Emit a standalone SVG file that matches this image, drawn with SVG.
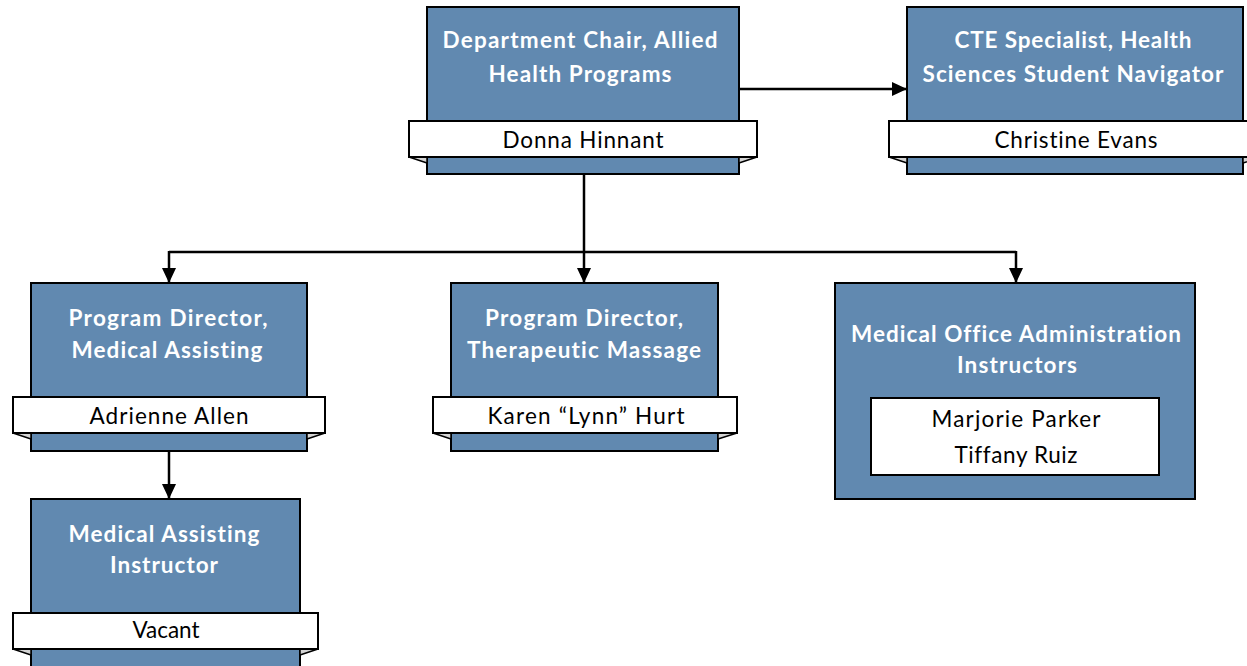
<svg xmlns="http://www.w3.org/2000/svg" width="1247" height="666" viewBox="0 0 1247 666">
<style>
.box{fill:#6189b0;stroke:#000;stroke-width:2}
.rib{fill:#fff;stroke:#000;stroke-width:2}
.fold{fill:#d4d4d4;stroke:#000;stroke-width:1.5;stroke-linejoin:round}
.t{font-family:Lato,"Liberation Sans",sans-serif;font-weight:bold;font-size:22.5px;fill:#fff;text-anchor:middle;font-variant-ligatures:none}
.n{font-family:Lato,"Liberation Sans",sans-serif;font-size:22.5px;fill:#000;text-anchor:middle;font-variant-ligatures:none}
.c{fill:none;stroke:#000;stroke-width:2.5}
</style>
<defs>
<marker id="ah" markerUnits="userSpaceOnUse" markerWidth="16" markerHeight="14" refX="15" refY="7" orient="auto">
<path d="M0,0 L15,7 L0,14 z" fill="#000"/>
</marker>
</defs>
<g id="connectors">
<line class="c" x1="739" y1="89" x2="907" y2="89" marker-end="url(#ah)"/>
<polyline class="c" points="584,174 584,252"/>
<line class="c" x1="169" y1="252" x2="1016" y2="252"/>
<line class="c" x1="169" y1="251" x2="169" y2="283" marker-end="url(#ah)"/>
<line class="c" x1="584" y1="251" x2="584" y2="283" marker-end="url(#ah)"/>
<line class="c" x1="1016" y1="251" x2="1016" y2="283" marker-end="url(#ah)"/>
<line class="c" x1="169" y1="451" x2="169" y2="499" marker-end="url(#ah)"/>
</g>
<g id="dept-chair">
<rect class="box" x="427" y="7" width="312" height="167"/>
<polygon class="fold" points="409,157 427,157 427,163"/>
<polygon class="fold" points="757,157 739,157 739,163"/>
<rect class="rib" x="409" y="121" width="348" height="36"/>
<text class="t" x="580" y="48" textLength="275" lengthAdjust="spacing">Department Chair, Allied</text>
<text class="t" x="580" y="82" textLength="183" lengthAdjust="spacing">Health Programs</text>
<text class="n" x="583" y="148" textLength="161" lengthAdjust="spacing">Donna Hinnant</text>
</g>
<g id="cte-specialist">
<rect class="box" x="907" y="7" width="336" height="167"/>
<polygon class="fold" points="889,157 907,157 907,163"/>
<polygon class="fold" points="1261,157 1243,157 1243,163"/>
<rect class="rib" x="889" y="121" width="372" height="36"/>
<text class="t" x="1073" y="48" textLength="237" lengthAdjust="spacing">CTE Specialist, Health</text>
<text class="t" x="1073" y="82" textLength="301" lengthAdjust="spacing">Sciences Student Navigator</text>
<text class="n" x="1076" y="148" textLength="163" lengthAdjust="spacing">Christine Evans</text>
</g>
<g id="pd-medical-assisting">
<rect class="box" x="31" y="283" width="276" height="168"/>
<polygon class="fold" points="13,433 31,433 31,439"/>
<polygon class="fold" points="325,433 307,433 307,439"/>
<rect class="rib" x="13" y="397" width="312" height="36"/>
<text class="t" x="168" y="326" textLength="199" lengthAdjust="spacing">Program Director,</text>
<text class="t" x="167" y="358" textLength="191" lengthAdjust="spacing">Medical Assisting</text>
<text class="n" x="169" y="424" textLength="159" lengthAdjust="spacing">Adrienne Allen</text>
</g>
<g id="pd-therapeutic-massage">
<rect class="box" x="451" y="283" width="267" height="168"/>
<polygon class="fold" points="433,433 451,433 451,439"/>
<polygon class="fold" points="737,433 718,433 718,439"/>
<rect class="rib" x="433" y="397" width="304" height="36"/>
<text class="t" x="584" y="326" textLength="198" lengthAdjust="spacing">Program Director,</text>
<text class="t" x="584" y="358" textLength="234" lengthAdjust="spacing">Therapeutic Massage</text>
<text class="n" x="586" y="424" textLength="197" lengthAdjust="spacing">Karen “Lynn” Hurt</text>
</g>
<g id="moa-instructors">
<rect class="box" x="835" y="283" width="360" height="216"/>
<rect class="rib" x="871" y="398" width="288" height="77"/>
<text class="t" x="1016" y="342" textLength="330" lengthAdjust="spacing">Medical Office Administration</text>
<text class="t" x="1017" y="373" textLength="120" lengthAdjust="spacing">Instructors</text>
<text class="n" x="1016" y="427" textLength="169" lengthAdjust="spacing">Marjorie Parker</text>
<text class="n" x="1016" y="463" textLength="123" lengthAdjust="spacing">Tiffany Ruiz</text>
</g>
<g id="ma-instructor">
<rect class="box" x="31" y="499" width="269" height="180"/>
<polygon class="fold" points="13,649 31,649 31,655"/>
<polygon class="fold" points="318,649 300,649 300,655"/>
<rect class="rib" x="13" y="613" width="305" height="36"/>
<text class="t" x="164" y="542" textLength="191" lengthAdjust="spacing">Medical Assisting</text>
<text class="t" x="164" y="573" textLength="108" lengthAdjust="spacing">Instructor</text>
<text class="n" x="166" y="638" textLength="67" lengthAdjust="spacing">Vacant</text>
</g>
</svg>
